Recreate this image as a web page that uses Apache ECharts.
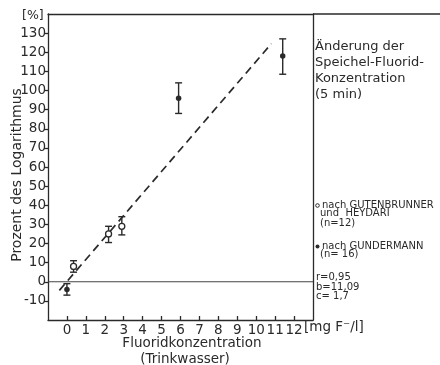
<!DOCTYPE html>
<html>
<head>
<meta charset="utf-8">
<style>
html,body{margin:0;padding:0;background:#fff;}
#chart{width:440px;height:365px;}
</style>
<script src="https://cdn.jsdelivr.net/npm/echarts/dist/echarts.min.js"></script>
</head>
<body>
<div id="chart"></div>
<script>
// ---- data ----
var xTicks = [0,1,2,3,4,5,6,7,8,9,10,11,12];
var yTicks = [-10,0,10,20,30,40,50,60,70,80,90,100,110,120,130];

// open circles: nach GUTENBRUNNER und HEYDARI
var openX    = [0.35, 2.2, 2.9];
var openY    = [8, 25, 29];
var openLow  = [5, 20.5, 24.5];
var openHigh = [11, 29, 34];

// filled dots: nach GUNDERMANN
var filledX    = [0, 5.9, 11.4];
var filledY    = [-4, 96, 118];
var filledLow  = [-7, 88, 108.5];
var filledHigh = [-1, 104, 127];

// dashed regression line end points
var fitX = [-0.4, 10.8];
var fitY = [-4.5, 124.5];

// zero reference line across the x range
var zeroX = [-1, 13];
var zeroY = [0, 0];

var ink = '#2a2a2a';
var FONT = 'DejaVu Sans';

function zip2(a, b){ return a.map(function(v,i){ return [v, b[i]]; }); }
function zip3(a, b, c){ return a.map(function(v,i){ return [v, b[i], c[i]]; }); }

function errRender(params, api){
  var x = api.value(0);
  var lo = api.coord([x, api.value(1)]);
  var hi = api.coord([x, api.value(2)]);
  var cw = 3.5;
  var st = {stroke: ink, lineWidth: 1.4};
  return {type:'group', children:[
    {type:'line', shape:{x1:lo[0],y1:lo[1],x2:hi[0],y2:hi[1]}, style:st},
    {type:'line', shape:{x1:lo[0]-cw,y1:lo[1],x2:lo[0]+cw,y2:lo[1]}, style:st},
    {type:'line', shape:{x1:hi[0]-cw,y1:hi[1],x2:hi[0]+cw,y2:hi[1]}, style:st}
  ]};
}

var chart = echarts.init(document.getElementById('chart'), null, {renderer:'canvas'});

var txt = {fill: ink, fontFamily: FONT};
function T(x, y, s, size, align, rot){
  var o = {type:'text', x:x, y:y, style:Object.assign({text:s, fontSize:size, textAlign: align || 'left', textVerticalAlign:'middle'}, txt)};
  if (rot) o.rotation = rot;
  return o;
}

chart.setOption({
  animation: false,
  backgroundColor: '#fff',
  grid: {left: 48, right: 127, top: 14, bottom: 45},
  xAxis: [{
    type: 'value', min: -1, max: 13, interval: 1,
    axisLine: {show: true, onZero: false, lineStyle: {color: ink, width: 1.3}},
    axisTick: {show: true, inside: true, length: 4, customValues: xTicks, lineStyle: {color: ink, width: 1.3}},
    axisLabel: {customValues: xTicks, color: ink, fontSize: 13.5, fontFamily: FONT, margin: 3},
    splitLine: {show: false}
  },{
    type: 'value', position: 'top', min: -1, max: 13,
    axisLine: {show: true, onZero: false, lineStyle: {color: ink, width: 1.3}},
    axisTick: {show: false}, axisLabel: {show: false}, splitLine: {show: false}
  }],
  yAxis: [{
    type: 'value', min: -20, max: 140, interval: 10,
    axisLine: {show: true, onZero: false, lineStyle: {color: ink, width: 1.3}},
    axisTick: {show: true, length: 4, customValues: yTicks, lineStyle: {color: ink, width: 1.3}},
    axisLabel: {customValues: yTicks, color: ink, fontSize: 13.5, fontFamily: FONT, margin: 2},
    splitLine: {show: false}
  },{
    type: 'value', position: 'right', min: -20, max: 140,
    axisLine: {show: true, onZero: false, lineStyle: {color: ink, width: 1.3}},
    axisTick: {show: false}, axisLabel: {show: false}, splitLine: {show: false}
  }],
  series: [
    {type: 'line', data: zip2(zeroX, zeroY), symbol: 'none', silent: true,
      lineStyle: {color: '#444', width: 1.2}, z: 1},
    {type: 'line', data: zip2(fitX, fitY), symbol: 'none',
      lineStyle: {color: ink, width: 1.7, type: [8, 5]}, z: 2},
    {type: 'custom', renderItem: errRender, data: zip3(openX, openLow, openHigh), z: 3},
    {type: 'custom', renderItem: errRender, data: zip3(filledX, filledLow, filledHigh), z: 3},
    {type: 'scatter', data: zip2(openX, openY), symbol: 'circle', symbolSize: 6,
      itemStyle: {color: '#fff', borderColor: ink, borderWidth: 1.3, opacity: 1}, z: 5},
    {type: 'scatter', data: zip2(filledX, filledY), symbol: 'circle', symbolSize: 5.5,
      itemStyle: {color: ink, opacity: 1}, z: 5}
  ],
  graphic: [
    {type:'line', shape:{x1:313, y1:14, x2:440, y2:14}, style:{stroke: ink, lineWidth: 1.3}},
    T(22, 16, '[%]', 12.5),
    T(17, 175, 'Prozent des Logarithmus', 14, 'center', Math.PI/2),
    T(192, 343, 'Fluoridkonzentration', 13.5, 'center'),
    T(185, 359, '(Trinkwasser)', 13.5, 'center'),
    T(304, 327, '[mg F\u207B/l]', 13.5),
    T(315, 47, 'Änderung der', 13),
    T(315, 63, 'Speichel-Fluorid-', 13),
    T(315, 79, 'Konzentration', 13),
    T(315, 95, '(5 min)', 13),
    {type:'circle', shape:{cx:317.5, cy:205.5, r:1.8}, style:{fill:'#fff', stroke: ink, lineWidth: 1}},
    T(322, 205, 'nach GUTENBRUNNER', 10),
    T(320, 213.5, 'und  HEYDARI', 10),
    T(320, 223, '(n=12)', 10),
    {type:'circle', shape:{cx:317.5, cy:246.5, r:2}, style:{fill: ink}},
    T(322, 246, 'nach GUNDERMANN', 10),
    T(320, 254.5, '(n= 16)', 10),
    T(316, 277, 'r=0,95', 10),
    T(316, 287, 'b=11,09', 10),
    T(316, 296, 'c= 1,7', 10)
  ]
});
</script>
</body>
</html>
